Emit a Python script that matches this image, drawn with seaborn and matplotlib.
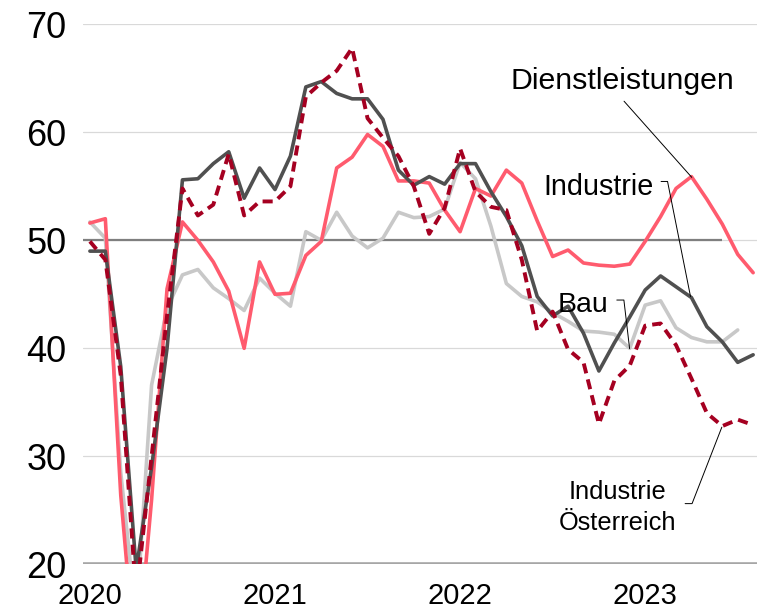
import numpy as np
import matplotlib
matplotlib.use("Agg")
import matplotlib.pyplot as plt
import seaborn as sns


# monthly index, 0 = Jan 2020
MONTHS = list(range(44))
YEAR_TICKS = [0, 12, 24, 36]
YEAR_LABELS = ['2020', '2021', '2022', '2023']
Y_TICKS = [20, 30, 40, 50, 60, 70]

industrie = [49.0, 49.0, 38.3, 19.5, 29.0, 40.0, 55.6, 55.7, 57.1, 58.2,
             53.9, 56.7, 54.7, 57.8, 64.2, 64.7, 63.6, 63.1, 63.1, 61.2,
             56.5, 55.1, 55.9, 55.2, 57.1, 57.1, 54.5, 52.2, 49.5, 44.8,
             43.0, 43.9, 41.4, 37.9, 40.5, 42.9, 45.4, 46.7, 45.7, 44.7,
             42.0, 40.6, 38.7, 39.4]

dienstleistungen = [51.6, 52.0, 26.4, 10.0, 26.0, 45.5, 51.7, 50.0, 48.0, 45.3,
                    40.0, 48.0, 45.0, 45.1, 48.6, 49.9, 56.7, 57.7, 59.8, 58.7,
                    55.5, 55.5, 55.3, 52.8, 50.8, 54.8, 54.1, 56.5, 55.3, 51.8,
                    48.5, 49.1, 47.9, 47.7, 47.6, 47.8, 49.9, 52.2, 54.8, 55.9,
                    53.8, 51.5, 48.7, 47.0]

bau = [51.7, 50.2, 28.5, 15.0, 36.6, 43.7, 46.8, 47.3, 45.6, 44.6,
       43.5, 46.5, 45.1, 43.9, 50.8, 50.0, 52.6, 50.4, 49.3, 50.2,
       52.6, 52.1, 52.2, 52.9, 57.2, 55.7, 51.3, 46.0, 44.8, 44.3,
       43.3, 42.5, 41.6, 41.5, 41.3, 40.0, 44.0, 44.4, 41.9, 41.0,
       40.6, 40.6, 41.7]

industrie_at = [49.9, 48.2, 37.5, 17.0, 30.0, 43.0, 54.8, 52.3, 53.3, 58.0,
                52.3, 53.6, 53.6, 55.0, 63.3, 64.6, 65.7, 67.8, 61.3, 59.5,
                57.8, 55.0, 50.6, 53.0, 58.5, 54.5, 53.1, 52.8, 48.2, 41.6,
                43.4, 39.9, 38.7, 33.0, 37.0, 38.4, 42.1, 42.3, 40.3, 37.2,
                34.0, 32.8, 33.4, 32.9]

REF_LEVEL = 50
REF_END = 41

C_IND = '#505050'
C_DL = '#FF5B6E'
C_BAU = '#C8C8C8'
C_AT = '#A50021'

sns.set_style('white')
plt.rcParams['font.family'] = ['Liberation Sans', 'DejaVu Sans']
plt.rcParams['text.color'] = 'black'

fig = plt.figure(figsize=(7.57, 6.11), dpi=100)
ax = fig.add_axes([0.1096, 0.0764, 0.8904, 0.8838])

x_left, x_right = -0.45, 43.25

# grid + reference lines
for t in Y_TICKS[1:]:
    ax.axhline(t, color='#D9D9D9', lw=0.9, zorder=0)
ax.axhline(20, color='#A6A6A6', lw=2.6, zorder=1)
ax.hlines(REF_LEVEL, x_left, REF_END, color='#7F7F7F', lw=1.6, zorder=1)

common = dict(ax=ax, linewidth=2.6, solid_joinstyle='round', legend=False)
sns.lineplot(x=MONTHS[:len(bau)], y=bau, color=C_BAU, **common)
sns.lineplot(x=MONTHS, y=dienstleistungen, color=C_DL, **common)
sns.lineplot(x=MONTHS, y=industrie, color=C_IND, **common)
sns.lineplot(x=MONTHS, y=industrie_at, color=C_AT, ax=ax, linewidth=2.8,
             linestyle=(0, (2.6, 1.6)), legend=False)

ax.set_xlim(x_left, x_right)
ax.set_ylim(20, 70)
ax.set_xticks(YEAR_TICKS)
ax.set_xticklabels(YEAR_LABELS)
ax.set_yticks(Y_TICKS)
ax.tick_params(axis='x', length=0, pad=12.5, labelsize=21, labelcolor='black')
ax.tick_params(axis='y', length=0, pad=12, labelsize=26, labelcolor='black')
ax.set_xlabel('')
ax.set_ylabel('')
for s in ax.spines.values():
    s.set_visible(False)

# labels with leader lines
lk = dict(color='black', lw=0.7, clip_on=False)
ax.text(34.53, 64.0, 'Dienstleistungen', ha='center', va='baseline', fontsize=21.8)
ax.plot([34.63, 39.02], [62.88, 55.83], **lk)

ax.text(32.97, 54.2, 'Industrie', ha='center', va='baseline', fontsize=20.7)
ax.plot([37.03, 37.45, 38.94], [55.45, 55.45, 44.79], **lk)

ax.text(31.97, 43.4, 'Bau', ha='center', va='baseline', fontsize=20.5)
ax.plot([34.16, 34.62, 34.99], [44.47, 44.47, 39.97], **lk)

ax.text(34.2, 26.08, 'Industrie', ha='center', va='baseline', fontsize=18.3)
ax.text(34.2, 23.16, 'Österreich', ha='center', va='baseline', fontsize=18.3)
ax.plot([38.59, 39.04, 40.97], [25.62, 25.62, 32.7], **lk)

fig.savefig('out.png', dpi=100)
plt.close(fig)
